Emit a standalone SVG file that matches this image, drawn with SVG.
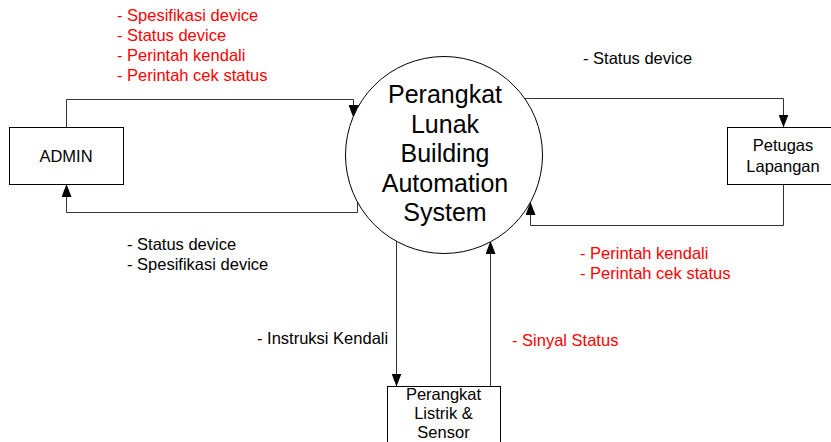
<svg xmlns="http://www.w3.org/2000/svg" width="831" height="442" viewBox="0 0 831 442">
<style>
text{font-family:"Liberation Sans",Arial,sans-serif;font-size:16.5px;fill:#000}
.red{fill:#ff0000}
.big{font-size:25px}
.box{fill:#fff;stroke:#000;stroke-width:1}
.conn{fill:none;stroke:#333;stroke-width:1}
</style>
<defs>
<marker id="arr" markerUnits="userSpaceOnUse" markerWidth="13" markerHeight="10" refX="13" refY="5" orient="auto">
<path d="M0,0 L13,5 L0,10 z" fill="#000"/>
</marker>
</defs>
<g id="connectors">
<path class="conn" d="M66.5,127 V99.5 H353.5 V118" marker-end="url(#arr)"/>
<path class="conn" d="M357.5,201 V212.5 H66.5 V184" marker-end="url(#arr)"/>
<path class="conn" d="M525,98.5 H783.5 V127.5" marker-end="url(#arr)"/>
<path class="conn" d="M783.5,184 V225.5 H530.5 V202" marker-end="url(#arr)"/>
<path class="conn" d="M396.5,241 V386.5" marker-end="url(#arr)"/>
<path class="conn" d="M490.5,386.5 V241" marker-end="url(#arr)"/>
</g>
<g id="process">
<circle cx="444" cy="155" r="98.5" fill="#fff" stroke="#000" stroke-width="1"/>
<text class="big" x="445" y="103" text-anchor="middle">Perangkat</text>
<text class="big" x="445" y="132.5" text-anchor="middle">Lunak</text>
<text class="big" x="445" y="162" text-anchor="middle">Building</text>
<text class="big" x="445" y="191.5" text-anchor="middle">Automation</text>
<text class="big" x="445" y="221" text-anchor="middle">System</text>
</g>
<g id="admin">
<rect class="box" x="9.5" y="127.5" width="114" height="57"/>
<text x="66" y="162" text-anchor="middle">ADMIN</text>
</g>
<g id="petugas">
<rect class="box" x="727.5" y="127.5" width="112" height="57"/>
<text x="783" y="151" text-anchor="middle">Petugas</text>
<text x="783" y="172" text-anchor="middle">Lapangan</text>
</g>
<g id="perangkat-listrik">
<rect class="box" x="387.5" y="386.5" width="113" height="70"/>
<text x="443.5" y="400" text-anchor="middle">Perangkat</text>
<text x="443.5" y="419" text-anchor="middle">Listrik &amp;</text>
<text x="443.5" y="438" text-anchor="middle">Sensor</text>
</g>
<g id="labels">
<text class="red" x="117" y="21">- Spesifikasi device</text>
<text class="red" x="117" y="41">- Status device</text>
<text class="red" x="117" y="61">- Perintah kendali</text>
<text class="red" x="117" y="81">- Perintah cek status</text>
<text x="583" y="64">- Status device</text>
<text x="127" y="250">- Status device</text>
<text x="127" y="269.5">- Spesifikasi device</text>
<text x="257" y="344">- Instruksi Kendali</text>
<text class="red" x="580" y="258.5">- Perintah kendali</text>
<text class="red" x="580" y="278.5">- Perintah cek status</text>
<text class="red" x="512" y="345.5">- Sinyal Status</text>
</g>
</svg>
